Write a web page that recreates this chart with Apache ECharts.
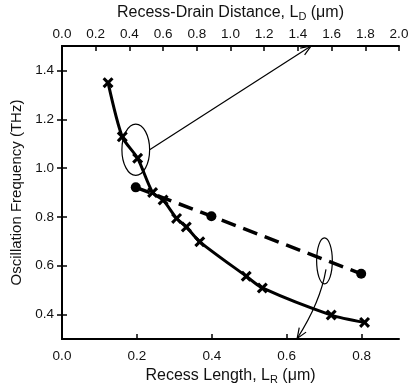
<!DOCTYPE html>
<html>
<head>
<meta charset="utf-8">
<script src="https://cdn.jsdelivr.net/npm/echarts@6/dist/echarts.min.js"></script>
<style>
  html, body { margin: 0; padding: 0; background: #fff; }
  #chart { width: 414px; height: 383px; }
</style>
</head>
<body>
<div id="chart"></div>
<script>
// recess length L_R (um) vs oscillation frequency (THz)
var crossX = [0.123, 0.161, 0.202, 0.242, 0.270, 0.306, 0.332, 0.368, 0.492, 0.535, 0.719, 0.808];
var crossY = [1.35, 1.128, 1.04, 0.90, 0.869, 0.794, 0.759, 0.698, 0.557, 0.509, 0.398, 0.368];
// recess-drain distance series, plotted on the L_R axis
var dotX = [0.197, 0.399, 0.799];
var dotY = [0.921, 0.803, 0.567];

var bottomTicks = [0, 0.2, 0.4, 0.6, 0.8];
var yTicks = [0.4, 0.6, 0.8, 1.0, 1.2, 1.4];

// annotations in L_R / frequency units
var ellipseA = { cx: 0.197, cy: 1.075, rx: 0.037, ry: 0.105 };
var ellipseB = { cx: 0.701, cy: 0.62, rx: 0.021, ry: 0.094 };
var arrowA = [[0.234, 1.075], [0.665, 1.5]];
var arrowB = [[0.705, 0.585], [0.69, 0.45], [0.628, 0.302]];

function pairs(xs, ys) {
  var out = [];
  for (var i = 0; i < xs.length; i++) out.push([xs[i], ys[i]]);
  return out;
}

var font = 'Liberation Sans, Arial, sans-serif';
var crossPath = 'path://M0,2L2,0L5,3L8,0L10,2L7,5L10,8L8,10L5,7L2,10L0,8L3,5Z';

var chart = echarts.init(document.getElementById('chart'), null, { renderer: 'canvas' });

var axisLine = { show: true, lineStyle: { color: '#000', width: 2 } };
var tickStyle = { inside: true, length: 5, lineStyle: { color: '#000', width: 1.5 } };
var subRich = { sub: { fontSize: 11, fontFamily: font, color: '#111', padding: [9, 0, 0, 0] } };

chart.setOption({
  animation: false,
  backgroundColor: '#fff',
  grid: { left: 62, right: 15, top: 46, bottom: 44, containLabel: false, outerBoundsMode: 'none' },
  xAxis: [
    {
      type: 'value', position: 'bottom', min: 0, max: 0.9,
      axisLine: axisLine,
      axisTick: Object.assign({ customValues: [0.2, 0.4, 0.6, 0.8] }, tickStyle),
      splitLine: { show: false },
      axisLabel: {
        customValues: bottomTicks, color: '#111', fontSize: 13.5, fontFamily: font, margin: 10,
        formatter: function (v) { return v.toFixed(1); }
      },
      name: 'Recess Length, L{sub|R} (μm)',
      nameLocation: 'middle', nameGap: 20,
      nameTextStyle: { color: '#111', fontSize: 16, fontFamily: font, rich: subRich }
    },
    {
      type: 'value', position: 'top', min: 0, max: 2.0, interval: 0.2,
      axisLine: axisLine,
      axisTick: tickStyle,
      splitLine: { show: false },
      axisLabel: {
        color: '#111', fontSize: 13.5, fontFamily: font, margin: 5,
        showMinLabel: true, showMaxLabel: true,
        formatter: function (v) { return v.toFixed(1); }
      },
      name: 'Recess-Drain Distance, L{sub|D} (μm)',
      nameLocation: 'middle', nameGap: 19,
      nameTextStyle: { color: '#111', fontSize: 16, fontFamily: font, rich: subRich }
    }
  ],
  yAxis: [
    {
      type: 'value', position: 'left', min: 0.3, max: 1.5,
      axisLine: axisLine,
      axisTick: Object.assign({ customValues: yTicks }, tickStyle),
      splitLine: { show: false },
      axisLabel: {
        customValues: yTicks, color: '#111', fontSize: 13.5, fontFamily: font, margin: 8,
        formatter: function (v) { return v.toFixed(1); }
      },
      name: 'Oscillation Frequency (THz)',
      nameLocation: 'middle', nameGap: 27,
      nameTextStyle: { color: '#111', fontSize: 15, fontFamily: font }
    },
    {
      type: 'value', position: 'right', min: 0.3, max: 1.5,
      axisLine: axisLine,
      axisTick: Object.assign({ customValues: yTicks }, tickStyle),
      splitLine: { show: false },
      axisLabel: { show: false }
    }
  ],
  series: [
    {
      type: 'line', xAxisIndex: 0, yAxisIndex: 0,
      data: pairs(dotX, dotY),
      symbol: 'circle', symbolSize: 10,
      itemStyle: { color: '#000' },
      lineStyle: { color: '#000', width: 3.5, type: [15, 8] },
      z: 3
    },
    {
      type: 'line', xAxisIndex: 0, yAxisIndex: 0,
      data: pairs(crossX, crossY),
      smooth: 0.25,
      symbol: crossPath, symbolSize: 11,
      itemStyle: { color: '#000' },
      lineStyle: { color: '#000', width: 3 },
      z: 4
    }
  ]
});

function px(p) { return chart.convertToPixel({ xAxisIndex: 0, yAxisIndex: 0 }, p); }

function ellipseEl(e) {
  var c = px([e.cx, e.cy]);
  var r = px([e.cx + e.rx, e.cy + e.ry]);
  return {
    type: 'ellipse',
    shape: { cx: c[0], cy: c[1], rx: Math.abs(r[0] - c[0]), ry: Math.abs(r[1] - c[1]) },
    style: { fill: 'none', stroke: '#000', lineWidth: 1.2 },
    z: 10
  };
}

function headEl(from, tip) {
  var a = Math.atan2(tip[1] - from[1], tip[0] - from[0]);
  var len = 11, spread = 0.38;
  return {
    type: 'polyline',
    shape: {
      points: [
        [tip[0] - len * Math.cos(a - spread), tip[1] - len * Math.sin(a - spread)],
        tip,
        [tip[0] - len * Math.cos(a + spread), tip[1] - len * Math.sin(a + spread)]
      ]
    },
    style: { fill: 'none', stroke: '#000', lineWidth: 1.2 },
    z: 10
  };
}

var a0 = px(arrowA[0]), a1 = px(arrowA[1]);
var b0 = px(arrowB[0]), b1 = px(arrowB[1]), b2 = px(arrowB[2]);

chart.setOption({
  graphic: [
    ellipseEl(ellipseA),
    ellipseEl(ellipseB),
    { type: 'line', shape: { x1: a0[0], y1: a0[1], x2: a1[0], y2: a1[1] },
      style: { stroke: '#000', lineWidth: 1.2 }, z: 10 },
    headEl(a0, a1),
    { type: 'bezierCurve', shape: { x1: b0[0], y1: b0[1], cpx1: b1[0], cpy1: b1[1], x2: b2[0], y2: b2[1] },
      style: { fill: 'none', stroke: '#000', lineWidth: 1.2 }, z: 10 },
    headEl(b1, b2)
  ]
});

window.addEventListener('resize', function () { chart.resize(); });
</script>
</body>
</html>
